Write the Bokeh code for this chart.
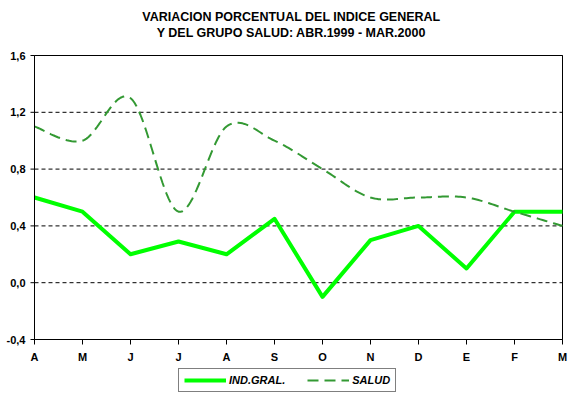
import numpy as np
from bokeh.plotting import figure
from bokeh.models import (FixedTicker, CustomJSTickFormatter, Legend, LegendItem,
                          Label, Range1d)
from bokeh.embed import file_html
from bokeh.resources import INLINE

months = ["A", "M", "J", "J", "A", "S", "O", "N", "D", "E", "F", "M"]
ind_gral = [0.6, 0.5, 0.2, 0.29, 0.2, 0.45, -0.1, 0.3, 0.4, 0.1, 0.5, 0.5]
salud = [1.1, 1.0, 1.3, 0.5, 1.1, 1.0, 0.8, 0.6, 0.6, 0.6, 0.5, 0.4]
y_ticks = [-0.4, 0.0, 0.4, 0.8, 1.2, 1.6]
title_lines = ["VARIACION PORCENTUAL DEL INDICE GENERAL",
               "Y DEL GRUPO SALUD: ABR.1999 - MAR.2000"]

FONT = "Liberation Sans"

W, H = 576, 397
LEFT, RIGHT_PX, TOP_PX, BOT_PX = 34, 562, 55, 339   # plot box in pixels
xs = list(range(len(months)))
X0, X1 = xs[0], xs[-1]
Y0, Y1 = y_ticks[0], y_ticks[-1]

# scale so that the visible plot box lands at the pixel positions above,
# while the frame covers the whole canvas (room for titles, labels and legend)
ppx = (RIGHT_PX - LEFT) / (X1 - X0)
ppy = (BOT_PX - TOP_PX) / (Y1 - Y0)
x_start = X0 - LEFT / ppx
x_end = X1 + (W - RIGHT_PX) / ppx
y_top = Y1 + TOP_PX / ppy
y_bot = Y0 - (H - BOT_PX) / ppy


def smooth(xv, yv, n=24):
    # Excel-like smoothed line (Catmull-Rom style bezier through the data points)
    P = np.column_stack([np.asarray(xv, float), np.asarray(yv, float)])
    out = []
    m = len(P)
    for i in range(m - 1):
        p0 = P[i - 1] if i > 0 else P[i]
        p1 = P[i]
        p2 = P[i + 1]
        p3 = P[i + 2] if i + 2 < m else P[i + 1]
        c1 = p1 + (p2 - p0) / 6.0
        c2 = p2 - (p3 - p1) / 6.0
        t = np.linspace(0, 1, n, endpoint=(i == m - 2))[:, None]
        seg = ((1 - t) ** 3) * p1 + 3 * ((1 - t) ** 2) * t * c1 + 3 * (1 - t) * t ** 2 * c2 + t ** 3 * p2
        out.append(seg)
    arr = np.vstack(out)
    return arr[:, 0], arr[:, 1]


p = figure(width=W, height=H, output_backend="svg", toolbar_location=None,
           title=None,
           x_range=Range1d(x_start, x_end), y_range=Range1d(y_bot, y_top),
           min_border_left=0, min_border_right=0, min_border_top=0,
           min_border_bottom=0)

p.background_fill_color = "white"
p.border_fill_color = "white"
p.outline_line_color = None
p.xgrid.visible = False
p.ygrid.visible = False

# horizontal dashed grid lines, limited to the plot box
n_t = len(y_ticks)
p.segment(x0=[X0] * n_t, y0=y_ticks, x1=[X1] * n_t, y1=y_ticks,
          line_color="black", line_width=1, line_dash="4 3")

# axes
p.yaxis.ticker = FixedTicker(ticks=y_ticks)
p.yaxis.formatter = CustomJSTickFormatter(code="return tick.toFixed(1).replace('.', ',');")
p.yaxis.bounds = (Y0, Y1)
p.yaxis.fixed_location = X0
p.xaxis.ticker = FixedTicker(ticks=xs)
p.xaxis.major_label_overrides = {i: m for i, m in enumerate(months)}
p.xaxis.bounds = (X0, X1)
p.xaxis.fixed_location = Y0
for ax in (p.xaxis, p.yaxis):
    ax.axis_line_color = "black"
    ax.axis_line_width = 1
    ax.major_tick_line_color = "black"
    ax.major_tick_in = 0
    ax.major_tick_out = 5
    ax.minor_tick_line_color = None
    ax.major_label_text_font = FONT
    ax.major_label_text_font_size = "11px"
    ax.major_label_text_font_style = "bold"
    ax.major_label_text_color = "black"
p.yaxis.major_tick_out = 0
p.yaxis.major_tick_line_color = None
p.yaxis.major_label_standoff = 9
p.xaxis.major_label_standoff = 6

# y tick marks (outside, to the left of the axis)
tick_len = 4 / ppx
p.segment(x0=[X0 - tick_len] * n_t, y0=y_ticks,
          x1=[X0] * n_t, y1=y_ticks, line_color="black", line_width=1)

# top and right border of the plot box
p.segment(x0=[X0, X1], y0=[Y1, Y0], x1=[X1, X1], y1=[Y1, Y1],
          line_color="black", line_width=1)

# series
r_ind = p.line(xs, ind_gral, line_color="#00FF00", line_width=4, line_join="round")
sx, sy = smooth(xs, salud)
r_sal = p.line(sx, sy, line_color="#339933", line_width=2, line_dash="11 6")

# title
title_cx = X0 + (291 - LEFT) / ppx
for k, txt in enumerate(title_lines):
    ypix = 16.5 + 16 * k
    p.add_layout(Label(x=title_cx, y=Y1 + (TOP_PX - ypix) / ppy, text=txt,
                       text_align="center", text_baseline="middle",
                       text_font=FONT, text_font_size="12.5px",
                       text_font_style="bold", text_color="black"))

legend = Legend(items=[LegendItem(label="IND.GRAL.", renderers=[r_ind]),
                       LegendItem(label="SALUD", renderers=[r_sal])],
                orientation="horizontal", location=(178, 5),
                label_text_font=FONT, label_text_font_size="11px",
                label_text_font_style="bold italic", label_text_color="black",
                glyph_width=42, glyph_height=12, label_standoff=3, spacing=22,
                padding=5, margin=0, border_line_color="black", border_line_width=1,
                background_fill_color="white", background_fill_alpha=1.0)
p.add_layout(legend, "center")

open("out.html", "w").write(file_html(p, INLINE))
